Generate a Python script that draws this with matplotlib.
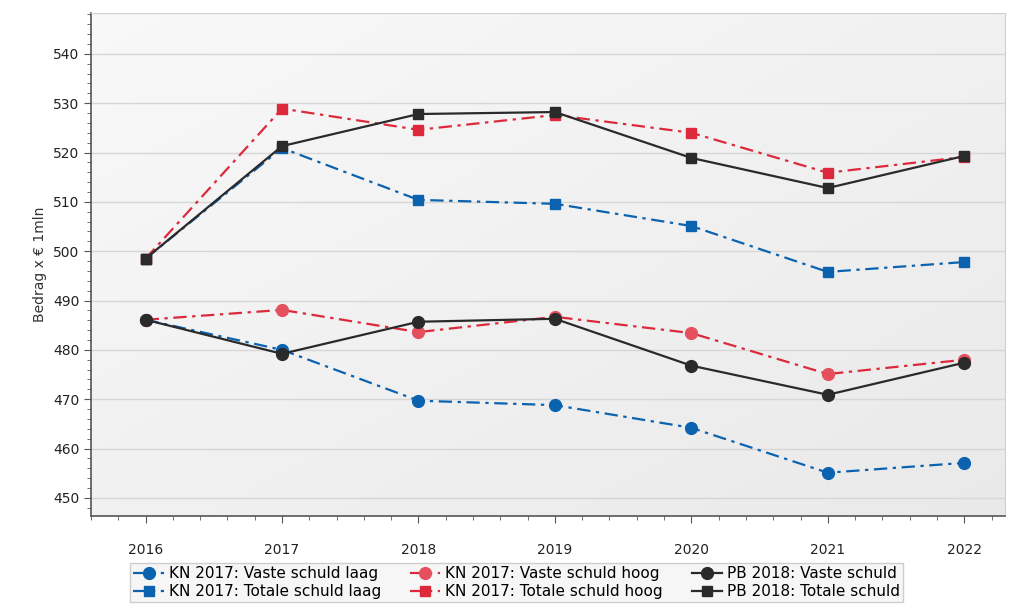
import matplotlib
matplotlib.use("Agg")
import matplotlib.pyplot as plt
import numpy as np
from matplotlib.ticker import MultipleLocator

years = [2016, 2017, 2018, 2019, 2020, 2021, 2022]

# Vaste schuld (circles)
kn_vast_laag = [486.1, 480.0, 469.7, 468.8, 464.2, 455.1, 457.1]
kn_vast_hoog = [486.1, 488.1, 483.6, 486.7, 483.4, 475.1, 478.0]
pb_vast = [486.1, 479.2, 485.7, 486.3, 476.8, 470.9, 477.4]

# Totale schuld (squares)
kn_tot_laag = [498.5, 520.9, 510.4, 509.6, 505.1, 495.8, 497.8]
kn_tot_hoog = [498.5, 528.9, 524.6, 527.6, 524.0, 515.9, 519.1]
pb_tot = [498.5, 521.3, 527.8, 528.2, 518.9, 512.8, 519.3]

blue = '#0b63b0'
red = '#dc2a3c'
black = '#2a2a2a'
dashdot = (0, (6, 2.5, 1.5, 2.5))

fig = plt.figure(figsize=(10.09, 6.13), dpi=100)
ax = fig.add_axes([0.0902, 0.158, 0.906, 0.821])

# light gradient background, top-left lighter than bottom-right
gx = np.linspace(0, 1, 256).reshape(1, -1)
gy = np.linspace(0, 1, 256).reshape(-1, 1)
shade = 0.975 - 0.06 * (gx + gy) / 2
rgb = np.dstack([shade, shade, shade])
ax.imshow(rgb, extent=[0, 1, 0, 1], origin='upper',
          transform=ax.transAxes, aspect='auto', zorder=0)

ax.plot(years, kn_vast_laag, color=blue, ls=dashdot, lw=1.6, marker='o', ms=8.5,
        label='KN 2017: Vaste schuld laag', zorder=3)
ax.plot(years, kn_tot_laag, color=blue, ls=dashdot, lw=1.6, marker='s', ms=7,
        label='KN 2017: Totale schuld laag', zorder=3)
ax.plot(years, kn_vast_hoog, color=red, ls=dashdot, lw=1.6, marker='o', ms=8.5,
        mfc='#e5505e', mec='#e5505e',
        label='KN 2017: Vaste schuld hoog', zorder=3)
ax.plot(years, kn_tot_hoog, color=red, ls=dashdot, lw=1.6, marker='s', ms=7,
        label='KN 2017: Totale schuld hoog', zorder=3)
ax.plot(years, pb_vast, color=black, ls='-', lw=1.6, marker='o', ms=8.5,
        label='PB 2018: Vaste schuld', zorder=4)
ax.plot(years, pb_tot, color=black, ls='-', lw=1.6, marker='s', ms=7,
        label='PB 2018: Totale schuld', zorder=4)

ax.set_xlim(2015.6, 2022.3)
ax.set_ylim(446.3, 548.3)
ax.set_xticks(years)
ax.set_yticks(np.arange(450, 541, 10))
ax.xaxis.set_minor_locator(MultipleLocator(0.2))
ax.yaxis.set_minor_locator(MultipleLocator(2))
ax.tick_params(axis='both', which='major', length=5, color='#555555', labelsize=10,
               labelcolor='#222222')
ax.tick_params(axis='both', which='minor', length=3, color='#555555')
ax.tick_params(axis='x', pad=14)
ax.grid(axis='y', which='major', color='#d6d6d6', lw=1, zorder=1)
ax.set_axisbelow(True)

for s in ['top', 'right']:
    ax.spines[s].set_color('#d0d0d0')
for s in ['left', 'bottom']:
    ax.spines[s].set_color('#555555')
    ax.spines[s].set_linewidth(1.2)

ax.set_ylabel('Bedrag x € 1mln', fontsize=10, color='#333333')

leg = fig.legend(loc='upper center', bbox_to_anchor=(0.512, 0.094), ncol=3,
                 fontsize=11, frameon=True, fancybox=False, handlelength=2.0,
                 handletextpad=0.3, columnspacing=1.9, borderpad=0.2,
                 labelspacing=0.2)
leg.get_frame().set_edgecolor('#c4c4c4')
leg.get_frame().set_facecolor('#f4f4f4')
leg.get_frame().set_linewidth(1)

fig.savefig('out.png', dpi=100)
